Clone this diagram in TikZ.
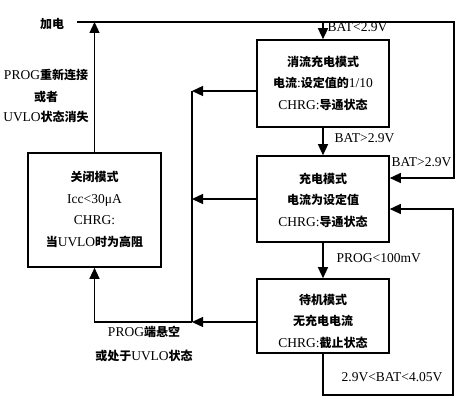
\documentclass[tikz,border=0pt]{standalone}
\usepackage{fontspec}
\setmainfont{Liberation Serif}
\newfontfamily\cjk{Noto Sans CJK SC}
\usetikzlibrary{arrows.meta}
\newcommand{\zh}[1]{{\cjk\bfseries\fontsize{12}{21.5}\selectfont #1}}
\begin{document}
\begin{tikzpicture}[x=1pt,y=-1pt,line width=1.3pt,
  box/.style={draw,line width=1.6pt,minimum width=132pt,inner sep=0pt},
  btext/.style={align=center,inner sep=0pt,font=\fontsize{13.5}{21.5}\selectfont},
  arr/.style={-{Triangle[length=11pt,width=10pt]}},
  lbl/.style={inner sep=0pt,font=\fontsize{13.5}{21.5}\selectfont}]
\useasboundingbox[fill=white] (0,0) rectangle (468,404);

% boxes
\node[box,minimum height=87pt] (trickle) at (323,83.5) {};
\node[btext] (trickleT) at (323,83) {\zh{消流充电模式}\\\zh{电流}:\zh{设定值的}1/10\\CHRG:\zh{导通状态}};
\node[box,minimum height=86pt] (charge) at (323,199) {};
\node[btext] (chargeT) at (323,200) {\zh{充电模式}\\\zh{电流为设定值}\\CHRG:\zh{导通状态}};
\node[box,minimum height=74pt] (standby) at (323,316) {};
\node[btext] (standbyT) at (323,321) {\zh{待机模式}\\\zh{无充电电流}\\CHRG:\zh{截止状态}};
\node[box,minimum width=133pt,minimum height=114pt] (closed) at (94.5,210) {};
\node[btext] (closedT) at (94.5,209.5) {\zh{关闭模式}\\Icc<30μA\\CHRG:\\\zh{当}UVLO\zh{时为高阻}};

% coordinates
\coordinate (pw) at (77,22);
\coordinate (tr) at (454,22);
\coordinate (bt) at (192,91);
\coordinate (bb) at (192,322);
\coordinate (lr) at (453,395);

% connectors
\draw[arr] (pw) -- (tr) |- ([yshift=21pt]charge.east);
\draw[arr] (trickle.north |- pw) -- (trickle.north);
\draw[arr] (closed.north) -- (closed.north |- pw);
\draw (bt) -- (bb);
\draw[arr] ([yshift=-7.5pt]trickle.west) -- (bt);
\draw[arr] (charge.west) -- (charge.west -| bt);
\draw[arr] ([yshift=-6pt]standby.west) -- (bb);
\draw[arr] (bb) -| (closed.south);
\draw[arr] (trickle.south) -- (charge.north);
\draw[arr] (charge.south) -- (standby.north);
\draw[arr] (standby.south) |- (lr) |- ([yshift=-10pt]charge.east);

% labels
\node[lbl] (power) at (52,24) {\zh{加电}};
\node[lbl,anchor=west] (l1) at (327,27) {BAT<2.9V};
\node[lbl,anchor=west] (l2) at (334,138) {BAT>2.9V};
\node[lbl,anchor=west] (l3) at (391,162) {BAT>2.9V};
\node[lbl,anchor=west] (l4) at (336,258) {PROG<100mV};
\node[lbl] (l5) at (392,377) {2.9V<BAT<4.05V};
\node[lbl] (l6a) at (46,75) {PROG\zh{重新连接}};
\node[lbl] (l6b) at (46,97) {\zh{或者}};
\node[lbl] (l6c) at (46,117) {UVLO\zh{状态消失}};
\node[lbl] (l7a) at (144,332) {PROG\zh{端悬空}};
\node[lbl] (l7b) at (144,356) {\zh{或处于}UVLO\zh{状态}};
\end{tikzpicture}
\end{document}
